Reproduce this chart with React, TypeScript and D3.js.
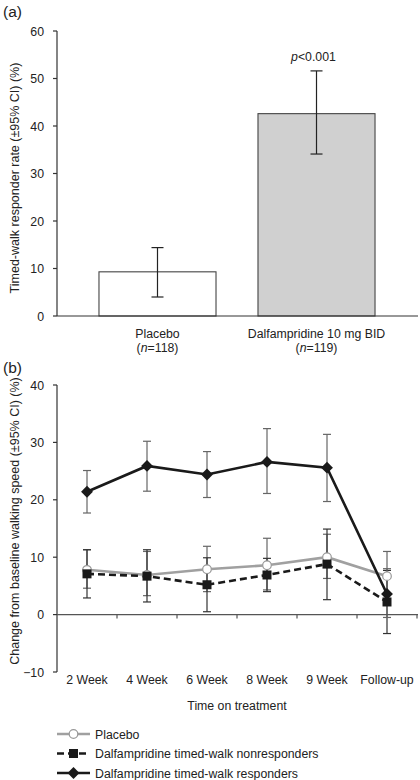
import React from "react";
import * as d3 from "d3";

const barCategories = ["Placebo", "Dalfampridine 10 mg BID"];
const barN = ["118", "119"];
const barValues = [9.3, 42.6];
const barLow = [4.0, 34.1];
const barHigh = [14.4, 51.6];
const barTicks = [0, 10, 20, 30, 40, 50, 60];

const timepoints = ["2 Week", "4 Week", "6 Week", "8 Week", "9 Week", "Follow-up"];
const placeboMean = [7.8, 6.9, 7.9, 8.6, 10.0, 6.7];
const placeboLow = [4.6, 3.3, 4.0, 4.3, 6.3, 2.4];
const placeboHigh = [11.3, 11.0, 11.9, 13.3, 14.0, 11.0];
const nonrespMean = [7.1, 6.7, 5.2, 6.9, 8.8, 2.2];
const nonrespLow = [2.9, 2.2, 0.5, 4.0, 2.6, -3.3];
const nonrespHigh = [11.3, 11.3, 9.9, 9.8, 14.9, 7.7];
const respMean = [21.4, 25.9, 24.4, 26.6, 25.6, 3.6];
const respLow = [17.7, 21.5, 20.4, 21.1, 19.7, -0.5];
const respHigh = [25.1, 30.2, 28.4, 32.4, 31.4, 8.0];
const lineTicks = [-10, 0, 10, 20, 30, 40];
const legendLabels = [
  "Placebo",
  "Dalfampridine timed-walk nonresponders",
  "Dalfampridine timed-walk responders",
];

const FONT = "Liberation Sans, Arial, sans-serif";
const FS = 12.3;

export default function App() {
  const W = 420;
  const H = 780;
  const axisX = 57;
  const right = 418;

  // Panel (a)
  const ya = d3.scaleLinear().domain([0, 60]).range([316, 31]);
  const xa = d3
    .scaleBand<string>()
    .domain(barCategories)
    .range([57, 417])
    .paddingInner(0.264)
    .paddingOuter(0.264);

  // Panel (b)
  const yb = d3.scaleLinear().domain([-10, 40]).range([672, 385]);
  const xb = d3.scaleBand<string>().domain(timepoints).range([57, 417]);
  const cx = (t: string) => (xb(t) as number) + xb.bandwidth() / 2;

  const lineGen = (vals: number[]) =>
    d3
      .line<number>()
      .x((_, i) => cx(timepoints[i]))
      .y((v) => yb(v))(vals) as string;

  const series = [
    { mean: placeboMean, low: placeboLow, high: placeboHigh, color: "#a0a0a0", dash: "", marker: "circle" },
    { mean: nonrespMean, low: nonrespLow, high: nonrespHigh, color: "#1a1a1a", dash: "7,4", marker: "square" },
    { mean: respMean, low: respLow, high: respHigh, color: "#1a1a1a", dash: "", marker: "diamond" },
  ];

  const marker = (type: string, x: number, y: number, key: string) => {
    if (type === "circle")
      return <circle key={key} cx={x} cy={y} r={4.3} fill="#fff" stroke="#999" strokeWidth={1.2} />;
    if (type === "square")
      return <rect key={key} x={x - 4.5} y={y - 4.5} width={9} height={9} fill="#1a1a1a" />;
    return (
      <path
        key={key}
        d={d3.symbol().type(d3.symbolDiamond2).size(90)() as string}
        transform={`translate(${x},${y})`}
        fill="#1a1a1a"
      />
    );
  };

  const errBar = (x: number, lo: number, hi: number, key: string, color: string) => (
    <g key={key} stroke={color} strokeWidth={1.2}>
      <line x1={x} x2={x} y1={yb(lo)} y2={yb(hi)} />
      <line x1={x - 4} x2={x + 4} y1={yb(lo)} y2={yb(lo)} />
      <line x1={x - 4} x2={x + 4} y1={yb(hi)} y2={yb(hi)} />
    </g>
  );

  return (
    <svg width={W} height={H} style={{ display: "block", position: "absolute", left: 0, top: 0 }} fontFamily={FONT}>
      <rect width={W} height={H} fill="#fff" />
      {/* Panel (a) */}
      <text x={3} y={17} fontSize={15.5} fill="#222">(a)</text>
      <line x1={axisX} x2={axisX} y1={ya(60)} y2={ya(0)} stroke="#333" strokeWidth={1.2} />
      {barTicks.map((t) => (
        <g key={"ta" + t}>
          <line x1={axisX - 4} x2={axisX} y1={ya(t)} y2={ya(t)} stroke="#333" strokeWidth={1.2} />
          <text x={44} y={ya(t) + 4.5} fontSize={FS} textAnchor="end" fill="#222">{t}</text>
        </g>
      ))}
      <text
        transform={`translate(19,178) rotate(-90)`}
        fontSize={12.5}
        textAnchor="middle"
        fill="#222"
      >
        Timed-walk responder rate (±95% CI) (%)
      </text>
      {barCategories.map((c, i) => {
        const x0 = xa(c) as number;
        const mid = x0 + xa.bandwidth() / 2;
        return (
          <g key={"bar" + i}>
            <rect
              x={x0}
              y={ya(barValues[i])}
              width={xa.bandwidth()}
              height={ya(0) - ya(barValues[i])}
              fill={i === 0 ? "#fff" : "#d0d0d0"}
              stroke="#444"
              strokeWidth={1.1}
            />
            <g stroke="#222" strokeWidth={1.2}>
              <line x1={mid} x2={mid} y1={ya(barLow[i])} y2={ya(barHigh[i])} />
              <line x1={mid - 6} x2={mid + 6} y1={ya(barLow[i])} y2={ya(barLow[i])} />
              <line x1={mid - 6} x2={mid + 6} y1={ya(barHigh[i])} y2={ya(barHigh[i])} />
            </g>
            <text x={mid} y={338} fontSize={FS} textAnchor="middle" fill="#222">{c}</text>
            <text x={mid} y={352} fontSize={FS} textAnchor="middle" fill="#222">
              (<tspan fontStyle="italic">n</tspan>={barN[i]})
            </text>
          </g>
        );
      })}
      <line x1={axisX} x2={right} y1={ya(0)} y2={ya(0)} stroke="#333" strokeWidth={1.2} />
      <text x={(xa(barCategories[1]) as number) + xa.bandwidth() / 2 - 3} y={ya(barHigh[1]) - 10} fontSize={FS} textAnchor="middle" fill="#222">
        <tspan fontStyle="italic">p</tspan>{"<0.001"}
      </text>

      {/* Panel (b) */}
      <text x={3} y={373} fontSize={15.5} fill="#222">(b)</text>
      <line x1={axisX} x2={axisX} y1={yb(40)} y2={yb(-10)} stroke="#333" strokeWidth={1.2} />
      {lineTicks.map((t) => (
        <g key={"tb" + t}>
          <line x1={axisX - 4} x2={axisX} y1={yb(t)} y2={yb(t)} stroke="#333" strokeWidth={1.2} />
          <text x={44} y={yb(t) + 4.5} fontSize={FS} textAnchor="end" fill="#222">
            {t < 0 ? "\u2212" + Math.abs(t) : t}
          </text>
        </g>
      ))}
      <text
        transform={`translate(19,521) rotate(-90)`}
        fontSize={12.5}
        textAnchor="middle"
        fill="#222"
      >
        Change from baseline walking speed (±95% CI) (%)
      </text>
      <line x1={axisX} x2={right} y1={yb(0)} y2={yb(0)} stroke="#555" strokeWidth={1.2} />
      {timepoints.map((t, i) => (
        <g key={"xt" + i}>
          <line
            x1={(xb(t) as number) + xb.bandwidth()}
            x2={(xb(t) as number) + xb.bandwidth()}
            y1={yb(0)}
            y2={yb(0) + 4}
            stroke="#555"
            strokeWidth={1.2}
          />
          <text x={cx(t)} y={684} fontSize={FS} textAnchor="middle" fill="#222">{t}</text>
        </g>
      ))}
      <text x={237} y={710} fontSize={FS} textAnchor="middle" fill="#222">Time on treatment</text>

      {series.map((s, si) =>
        timepoints.map((t, i) => errBar(cx(t), s.low[i], s.high[i], `e${si}-${i}`, si === 1 ? "#333" : "#666"))
      )}
      {series.map((s, si) => (
        <path
          key={"l" + si}
          d={lineGen(s.mean)}
          fill="none"
          stroke={s.color}
          strokeWidth={2.6}
          strokeDasharray={s.dash}
        />
      ))}
      {series.map((s, si) => timepoints.map((t, i) => marker(s.marker, cx(t), yb(s.mean[i]), `m${si}-${i}`)))}

      {/* Legend */}
      {series.map((s, si) => {
        const y = 734 + si * 19.5;
        return (
          <g key={"lg" + si}>
            <line x1={57} x2={90} y1={y} y2={y} stroke={s.color} strokeWidth={2.6} strokeDasharray={s.dash} />
            {marker(s.marker, 73.5, y, "lm" + si)}
            <text x={95} y={y + 4.5} fontSize={FS} fill="#222">{legendLabels[si]}</text>
          </g>
        );
      })}
    </svg>
  );
}
